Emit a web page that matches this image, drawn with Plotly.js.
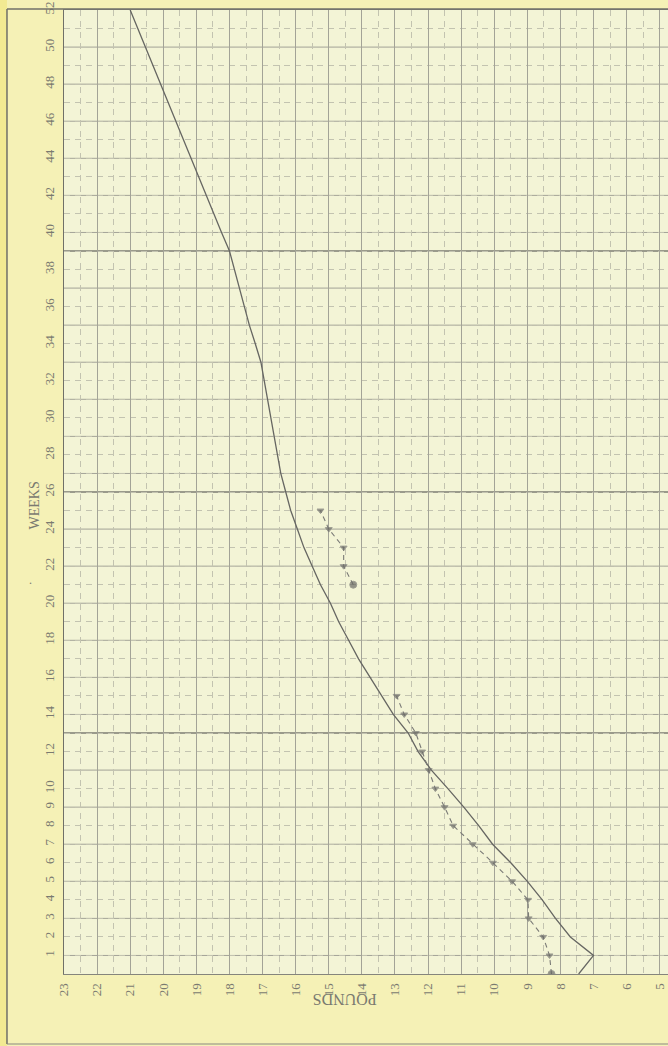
<!DOCTYPE html>
<html>
<head>
<meta charset="utf-8">
<script src="https://cdn.plot.ly/plotly-3.0.1.min.js"></script>
<style>
  html, body { margin: 0; padding: 0; background: #f4efaa; }
  #chart { width: 668px; height: 1046px; }
</style>
</head>
<body>
<div id="chart"></div>
<script>
// ---- data ----
const avgWeeks = [0,1,2,3,4,5,6,7,8,9,10,11,12,13,14,15,16,17,18,19,20,21,22,23,24,25,26,
  27,28,29,30,31,32,33,34,35,36,37,38,39,40,41,42,43,44,45,46,47,48,49,50,51,52];
const avgPounds = [7.45,7.0,7.7,8.15,8.55,9.0,9.5,10.05,10.47,10.92,11.4,11.9,12.3,12.6,13.05,13.4,13.75,
  14.1,14.4,14.7,14.95,15.25,15.5,15.75,15.95,16.15,16.3,16.45,16.55,16.65,16.75,16.85,16.95,17.05,
  17.22,17.4,17.55,17.7,17.85,18.0,18.24,18.47,18.7,18.92,19.15,19.38,19.61,19.84,20.07,20.3,20.53,20.77,21.0];

const babyWeeks = [0,1,2,3,4,5,6,7,8,9,10,11,12,13,14,15,16,17,18,19,20,21,22,23,24,25];
const babyPounds = [8.27,8.33,8.52,8.96,8.98,9.46,10.04,10.65,11.24,11.5,11.78,11.98,12.18,12.37,12.72,12.95,
  null,null,null,null,null,14.26,14.55,14.55,15.0,15.25];

const poundTicks = [23,22,21,20,19,18,17,16,15,14,13,12,11,10,9,8,7,6,5];
const weekTicks = [1,2,3,4,5,6,7,8,9,10,12,14,16,18,20,22,24,26,28,30,32,34,36,38,40,42,44,46,48,50,52];
const quarterWeeks = [13,26,39];

// ---- styling ----
const serif = "Liberation Serif, DejaVu Serif, serif";
const gridSolid = "#a3a397";
const gridDash = "#c3c3b0";

// graph-paper week lines: solid at odd offsets above each quarter line
const shapes = [];
for (let w = 1; w < 52; w++) {
  const base = Math.floor((w - 1) / 13) * 13;
  if (quarterWeeks.indexOf(w) >= 0) continue;
  if ((w - base) % 2 === 1) {
    shapes.push({type: "line", layer: "between", xref: "paper", yref: "y", x0: 0, x1: 1, y0: w, y1: w,
      line: {color: gridSolid, width: 1}});
  }
}
quarterWeeks.forEach(w => shapes.push({type: "line", layer: "between", xref: "paper", yref: "y",
  x0: 0, x1: 1, y0: w, y1: w, line: {color: "#7c7c72", width: 1.4}}));

// page frame and outer strip
shapes.push({type: "rect", layer: "below", xref: "paper", yref: "paper", x0: -0.11, x1: -0.0944,
  y0: -0.08, y1: 1.012, fillcolor: "#f2ea92", line: {width: 0}});
shapes.push({type: "line", layer: "above", xref: "paper", yref: "paper", x0: -0.0944, x1: -0.0944,
  y0: 1.001, y1: -0.0726, line: {color: "#707068", width: 1.5}});
shapes.push({type: "line", layer: "above", xref: "paper", yref: "paper", x0: -0.0944, x1: 1.0,
  y0: 1.001, y1: 1.001, line: {color: "#707068", width: 1.5}});
shapes.push({type: "line", layer: "above", xref: "paper", yref: "paper", x0: -0.0944, x1: 1.0,
  y0: -0.0726, y1: -0.0726, line: {color: "#8a8a80", width: 1.2}});

const babySymbols = babyWeeks.map(w => (w === 0 || w === 21) ? "circle" : "triangle-down");
const babySizes = babyWeeks.map(w => (w === 0 || w === 21) ? 7 : 6);

const traces = [
  {
    x: avgPounds, y: avgWeeks, type: "scatter", mode: "lines",
    line: {color: "#666662", width: 1.3}, hoverinfo: "skip", showlegend: false
  },
  {
    x: babyPounds, y: babyWeeks, type: "scatter", mode: "lines+markers", connectgaps: false,
    line: {color: "#7a7a76", width: 1.1, dash: "5px,4px"},
    marker: {color: "#6a6a66", symbol: babySymbols, size: babySizes},
    hoverinfo: "skip", showlegend: false
  }
];

const layout = {
  width: 668, height: 1046,
  margin: {l: 64, r: 0, t: 10, b: 72},
  paper_bgcolor: "#f5f1b6",
  plot_bgcolor: "#f3f4d6",
  showlegend: false,
  font: {family: serif, color: "#77776e", size: 12},
  xaxis: {
    range: [23, 4.75], tickmode: "array", tickvals: poundTicks, ticktext: poundTicks.map(String),
    tickangle: -90, tickfont: {family: serif, size: 13, color: "#7a7a70"},
    ticks: "", ticklabelstandoff: 3, ticklabeloverflow: "allow",
    showgrid: true, gridcolor: gridSolid, gridwidth: 1,
    minor: {tickmode: "linear", tick0: 0, dtick: 0.5, showgrid: true, gridcolor: gridDash, griddash: "6px,5px", gridwidth: 1, ticks: ""},
    zeroline: false, showline: true, mirror: true, linecolor: "#85857c", linewidth: 1
  },
  yaxis: {
    range: [0, 52], tickmode: "array", tickvals: weekTicks, ticktext: weekTicks.map(String),
    tickangle: -90, tickfont: {family: serif, size: 13, color: "#7a7a70"},
    ticks: "", ticklabelstandoff: 3, ticklabeloverflow: "allow",
    showgrid: false,
    minor: {tickmode: "linear", tick0: 0, dtick: 1, showgrid: true, gridcolor: gridDash, griddash: "6px,5px", gridwidth: 1, ticks: ""},
    zeroline: false, showline: true, mirror: true, linecolor: "#707068", linewidth: 1.5
  },
  shapes: shapes,
  annotations: [
    {text: "WEEKS", xref: "paper", yref: "paper", x: -0.0646, y: 0.4865, showarrow: false,
     textangle: -90, font: {family: serif, size: 14, color: "#7a7a70"}},
    {text: ".", xref: "paper", yref: "paper", x: -0.0613, y: 0.409, showarrow: false,
     font: {family: serif, size: 12, color: "#7a7a70"}},
    {text: "POUNDS", xref: "paper", yref: "paper", x: 0.465, y: -0.0373, showarrow: false,
     textangle: 180, font: {family: serif, size: 16, color: "#7a7a70"}}
  ]
};

Plotly.newPlot("chart", traces, layout, {staticPlot: true, displayModeBar: false});
</script>
</body>
</html>
